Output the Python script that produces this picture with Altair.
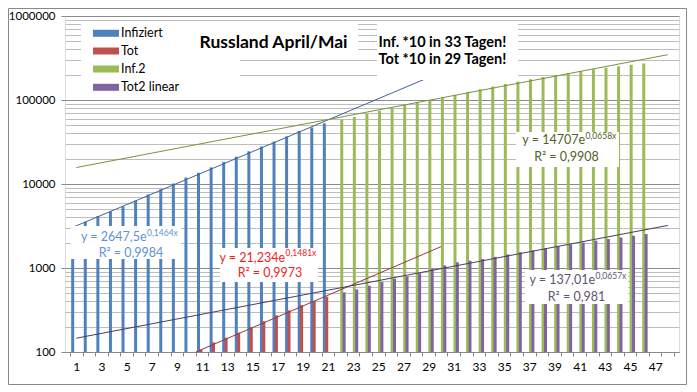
import altair as alt
import pandas as pd

# ---------------- data ----------------
days_first = list(range(1, 22))
infiziert = [2777, 3548, 4149, 4731, 5389, 6343, 7497, 8672, 10131, 11917, 13584,
             15770, 18328, 21102, 24490, 27938, 32008, 36793, 42853, 47121, 52763]
tot = [24, 30, 34, 43, 45, 47, 58, 63, 76, 94, 106,
       130, 148, 170, 198, 232, 273, 313, 361, 405, 456]

days_second = list(range(22, 47))
inf2 = [57999, 62773, 68622, 74588, 80949, 87147, 93558, 99399, 106498, 114431,
        124054, 134686, 145268, 155370, 165929, 177160, 187859, 198676, 209688,
        221344, 232243, 242271, 252245, 262843, 272043]
tot2 = [513, 555, 615, 681, 747, 794, 867, 972, 1073, 1169, 1222, 1280, 1356,
        1451, 1537, 1625, 1723, 1827, 1915, 2009, 2116, 2212, 2305, 2418, 2537]

series_names = ["Infiziert", "Tot", "Inf.2", "Tot2 linear"]

# trendline end points (day, value)
trend_x_start = [0.6, 10.5, 1, 1]
trend_x_end = [30, 30, 48, 48]
trend_y_start = [3000, 100, 15700, 146]
trend_y_end = [214000, 1800, 346000, 3210]

eq_main = ["y = 2647,5e", "y = 21,234e", "y = 14707e", "y = 137,01e"]
eq_exp = ["0,1464x", "0,1481x", "0,0658x", "0,0657x"]
eq_r2 = ["R\u00b2 = 0,9984", "R\u00b2 = 0,9973", "R\u00b2 = 0,9908", "R\u00b2 = 0,981"]

title_text = "Russland April/Mai"
note_lines = ["Inf. *10 in 33 Tagen!", "Tot *10 in 29 Tagen!"]

y_major = [100, 1000, 10000, 100000, 1000000]
y_grid = [m * k for m in [100, 1000, 10000, 100000] for k in range(1, 10)] + [1000000]
x_tick_pos = [i + 0.5 for i in range(0, 49)]
x_label_pos = list(range(1, 48, 2))

# ---------------- styles ----------------
FONT = "Lato"
bar_colors = ["#4F81BD", "#C0504D", "#9BBB59", "#8064A2"]
bar_offsets = [-3.6, -1.2, 1.2, 3.6]
trend_colors = ["#3D6399", "#943A37", "#77933C", "#4B3B68"]
eq_colors = ["#5E93D6", "#F01E1E", "#4F6228", "#5F5272"]

# equation label layout (pixels relative to plot origin)
eq_box = [(6, 116, 210, 243), (155, 253, 232, 266), (451, 554, 116, 151), (460, 563, 254, 288)]
eq_join = [81.5, 220, 520, 530]     # where main text ends / exponent begins
eq_line1 = [221, 241.5, 124, 264]
eq_r2_cx = [66, 205, 501.5, 511.5]
eq_line2 = [237, 257, 140.7, 281]

W, H = 614, 336

xscale = alt.Scale(domain=[0.5, 48.5], nice=False, zero=False)
yscale = alt.Scale(type="log", domain=[100, 1000000], nice=False)

major_test = " || ".join(f"datum.value == {v}" for v in y_major)
xaxis = alt.Axis(
    values=sorted(x_tick_pos + x_label_pos), title=None, grid=False,
    labelExpr="datum.value % 2 == 1 ? datum.value : ''",
    labelOverlap=False, labelFlush=False, labelFont=FONT, labelFontSize=12,
    labelColor="#000000", labelPadding=5, tickSize=4, tickColor="#878787",
    tickOpacity={"condition": {"test": "datum.value % 1 != 0", "value": 1}, "value": 0},
    domainColor="#878787",
)
yaxis = alt.Axis(
    values=y_grid, title=None, grid=True,
    gridColor={"condition": {"test": major_test, "value": "#8A8A8A"}, "value": "#BDBDBD"},
    labelExpr=f"({major_test}) ? format(datum.value, 'd') : ''",
    labelOverlap=False, labelFlush=False, labelFont=FONT, labelFontSize=11.5,
    labelColor="#000000", labelPadding=6, tickSize=4, tickColor="#878787",
    tickOpacity={"condition": {"test": major_test, "value": 1}, "value": 0},
    domain=False,
)

layers = []

# bars
bar_sets = [(days_first, infiziert), (days_first, tot), (days_second, inf2), (days_second, tot2)]
for i, (d, v) in enumerate(bar_sets):
    df = pd.DataFrame({"Tag": d, "Wert": v, "Serie": series_names[i]})
    layers.append(
        alt.Chart(df).mark_bar(width=3, xOffset=bar_offsets[i], color=bar_colors[i], clip=True)
        .encode(x=alt.X("Tag:Q", scale=xscale, axis=xaxis),
                y=alt.Y("Wert:Q", scale=yscale, axis=yaxis),
                y2=alt.datum(100))
    )

# trendlines (straight on the log axis between end points)
for i in range(4):
    df = pd.DataFrame({"Tag": [trend_x_start[i], trend_x_end[i]],
                       "Wert": [trend_y_start[i], trend_y_end[i]]})
    layers.append(
        alt.Chart(df).mark_line(color=trend_colors[i], strokeWidth=1)
        .encode(x=alt.X("Tag:Q", scale=xscale, axis=xaxis),
                y=alt.Y("Wert:Q", scale=yscale, axis=yaxis))
    )


def box(x1, x2, y1, y2):
    return alt.Chart(pd.DataFrame({"k": [0]})).mark_rect(color="white").encode(
        x=alt.value(x1), x2=alt.value(x2), y=alt.value(y1), y2=alt.value(y2))


def label(text, x, y, size, color="#000000", weight="normal", align="left"):
    return alt.Chart(pd.DataFrame({"t": [text]})).mark_text(
        font=FONT, fontSize=size, color=color, fontWeight=weight, align=align,
        baseline="middle").encode(text="t:N", x=alt.value(x), y=alt.value(y))


# legend / title / note boxes covering grid
layers.append(box(16, 175, 5, 80))
layers.append(box(175, 293, 5, 40))
layers.append(box(312, 453, 5, 64))

# legend entries
leg_y = [17.3, 35, 53, 71.3]
for i in range(4):
    layers.append(box(28, 54, leg_y[i] - 3.5, leg_y[i] + 3.5).mark_rect(color=bar_colors[i]))
    layers.append(label(series_names[i], 56, leg_y[i], 12.5))

# title and note
layers.append(label(title_text, 208.5, 26.7, 17.5, weight="bold", align="center"))
layers.append(label(note_lines[0], 313.5, 26.7, 14.5, weight="bold"))
layers.append(label(note_lines[1], 313.5, 44, 14.5, weight="bold"))

# equation labels
for i in range(4):
    x1, x2, y1, y2 = eq_box[i]
    layers.append(box(x1, x2, y1, y2))
    layers.append(label(eq_main[i], eq_join[i], eq_line1[i], 12.5, eq_colors[i], align="right"))
    layers.append(label(eq_exp[i], eq_join[i] + 0.5, eq_line1[i] - 4.5, 8.5, eq_colors[i]))
    layers.append(label(eq_r2[i], eq_r2_cx[i], eq_line2[i], 12.5, eq_colors[i], align="center"))

# chart frame
layers.append(
    alt.Chart(pd.DataFrame({"k": [0]})).mark_rect(filled=False, stroke="#888888", strokeWidth=1)
    .encode(x=alt.value(-56.5), x2=alt.value(621.5), y=alt.value(-7.5), y2=alt.value(368.5))
)

chart = alt.layer(*layers).properties(
    width=W, height=H,
    padding={"left": 57, "top": 8, "right": 9, "bottom": 34},
    autosize=alt.AutoSizeParams(type="none"),
).configure_view(stroke=None).configure(background="white")

chart.save("out.html", embed_options={"renderer": "svg", "actions": False})
